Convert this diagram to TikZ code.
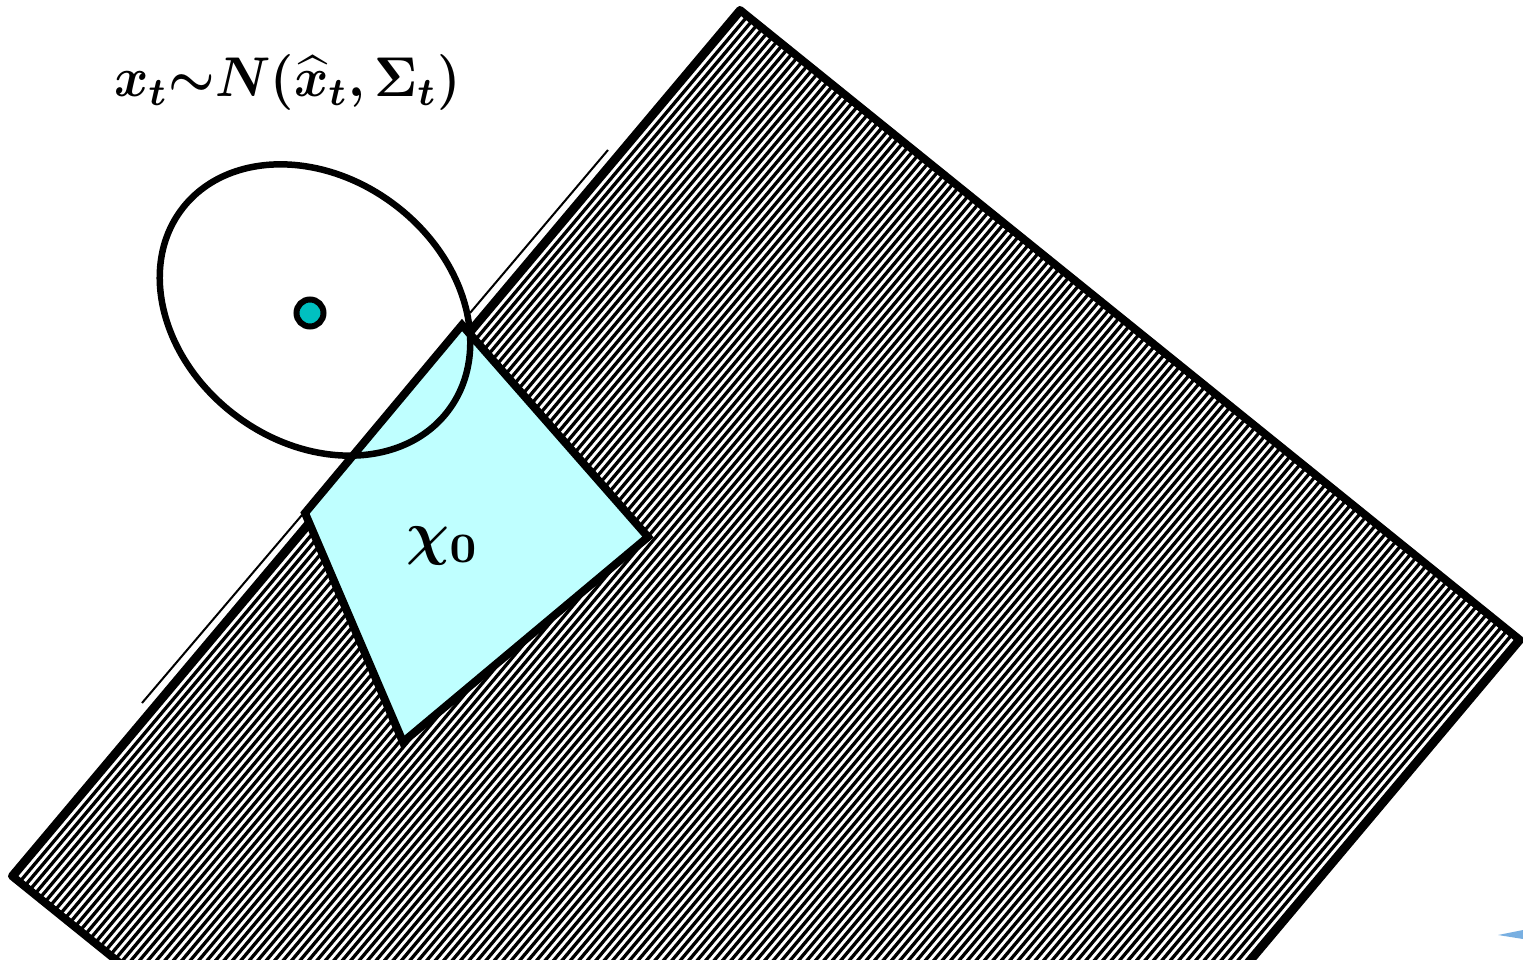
\documentclass[tikz,border=0pt]{standalone}
\usepackage{amsmath,bm}
\usetikzlibrary{calc}
\definecolor{lcyan}{RGB}{191,255,255}
\definecolor{dotcyan}{RGB}{0,192,192}
\definecolor{sliver}{RGB}{120,175,225}
\begin{document}
\begin{tikzpicture}[x=1pt,y=-1pt,
  edge/.style={line width=8pt,line join=round},
  hatchline/.style={line width=3.3pt},
  thinline/.style={line width=2pt},
  region/.style={fill=lcyan,draw=black,line width=8pt,line join=miter},
  lbl/.style={anchor=base west,inner sep=0pt}]
\useasboundingbox (0,0) rectangle (1523,960);
% rectangle corners
\coordinate (L) at (12,876);
\coordinate (T) at (740,10);
\coordinate (R) at (1520,640);
\coordinate (B) at (792,1506);
% hatching
\begin{scope}
  \clip (L) -- (T) -- (R) -- (B) -- cycle;
  \foreach \k in {0,...,155} {
    \pgfmathsetmacro\f{(\k+0.5)/155}
    \draw[hatchline] ($(L)!\f!(B)$) -- ($(T)!\f!(R)$);
  }
\end{scope}
\draw[edge] (L) -- (T) -- (R) -- (B) -- cycle;
% thin offset lines
\coordinate (ta) at (608,150);
\coordinate (tb) at (470,313);
\coordinate (tc) at (302,515);
\coordinate (td) at (142,703);
\draw[thinline] (ta) -- (tb);
\draw[thinline] (tc) -- (td);
% cyan region
\coordinate (q1) at (462,325);
\coordinate (q2) at (648,537);
\coordinate (q3) at (403,742);
\coordinate (q4) at (305,513);
\draw[region] (q1) -- (q2) -- (q3) -- (q4) -- cycle;
% ellipse
\draw[line width=6.5pt,rotate around={-37:(315,310)}] (315,310) ellipse (167 and 132);
% mean dot
\node[circle,fill=dotcyan,draw=black,line width=6pt,minimum size=27pt,inner sep=0pt] (mu) at (310,313) {};
% labels
\node[lbl,scale=5.6,xscale=0.93] (dist) at (113,97) {$\boldsymbol{x_t{\sim}N(\widehat{x}_t{,}\,\Sigma_t)}$};
\node[lbl,scale=6] (chi) at (405,553) {$\boldsymbol{\chi}_{\mathbf 0}$};
% small blue sliver
\fill[sliver] (1498,935) -- (1523,930) -- (1523,939) -- cycle;
\end{tikzpicture}
\end{document}
